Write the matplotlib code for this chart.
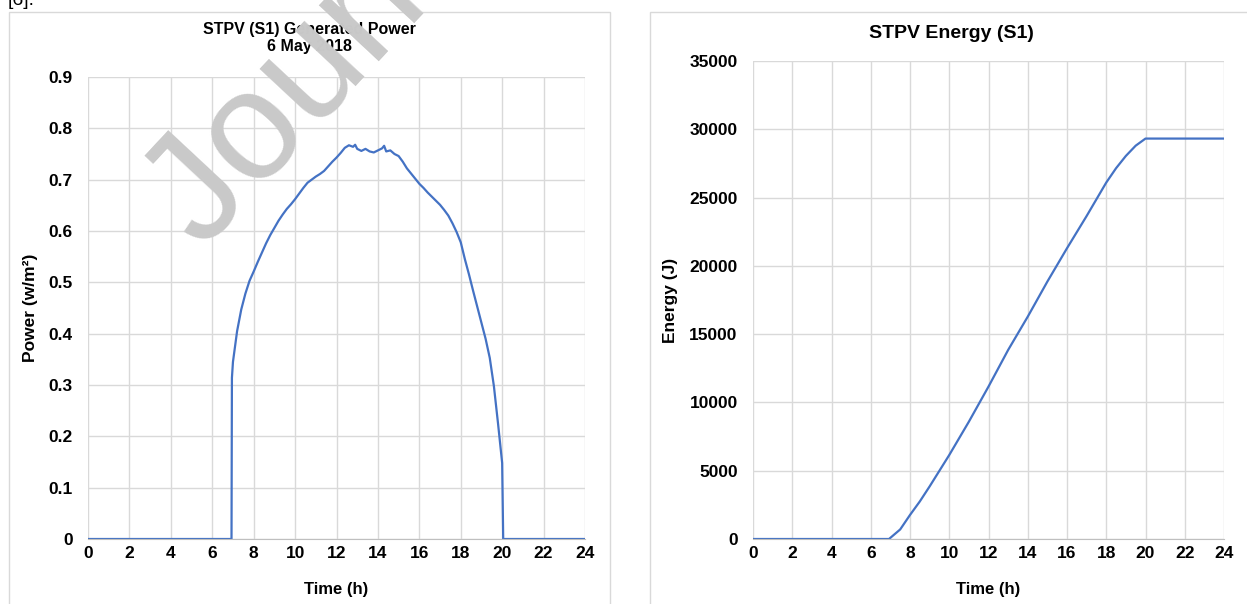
import matplotlib
matplotlib.use('Agg')
import matplotlib.pyplot as plt
import matplotlib.patches as patches

plt.rcParams['font.family'] = ['Liberation Sans', 'DejaVu Sans']

# generated power, 6 May 2018
power_hours = [0, 6.93, 6.95, 7.0, 7.2, 7.4, 7.6, 7.8, 8.0, 8.2, 8.4, 8.6, 8.8,
               9.0, 9.2, 9.4, 9.6, 9.8, 10.0, 10.2, 10.4, 10.6, 10.8, 11.0,
               11.2, 11.4, 11.6, 11.8, 12.0, 12.2, 12.4, 12.6, 12.8, 12.9,
               13.0, 13.2, 13.4, 13.6, 13.8, 14.0, 14.2, 14.3, 14.4, 14.6,
               14.8, 15.0, 15.2, 15.4, 15.6, 15.8, 16.0, 16.2, 16.4, 16.6,
               16.8, 17.0, 17.2, 17.4, 17.6, 17.8, 18.0, 18.2, 18.4, 18.6,
               18.8, 19.0, 19.2, 19.4, 19.6, 19.8, 20.0, 20.05, 24]
power = [0, 0, 0.314, 0.345, 0.405, 0.447, 0.478, 0.503, 0.521, 0.540, 0.558,
         0.576, 0.592, 0.606, 0.620, 0.632, 0.643, 0.652, 0.662, 0.673, 0.684,
         0.694, 0.700, 0.706, 0.711, 0.717, 0.726, 0.735, 0.743, 0.752, 0.762,
         0.767, 0.764, 0.768, 0.760, 0.756, 0.760, 0.755, 0.753, 0.757, 0.761,
         0.766, 0.755, 0.757, 0.750, 0.746, 0.735, 0.722, 0.712, 0.702, 0.692,
         0.684, 0.675, 0.667, 0.659, 0.651, 0.641, 0.630, 0.615, 0.598, 0.578,
         0.545, 0.515, 0.483, 0.452, 0.421, 0.390, 0.353, 0.298, 0.225, 0.148,
         0, 0]

# cumulative energy
energy_hours = [0, 6.93, 7.5, 8, 8.5, 9, 10, 11, 12, 13, 14, 15, 16, 17, 18,
                18.5, 19, 19.5, 20, 24]
energy = [0, 0, 700, 1760, 2750, 3850, 6150, 8590, 11160, 13840, 16280, 18850,
          21290, 23650, 26100, 27150, 28050, 28800, 29320, 29320]

x_ticks = list(range(0, 25, 2))
power_ticks = [0, 0.1, 0.2, 0.3, 0.4, 0.5, 0.6, 0.7, 0.8, 0.9]
power_labels = ['0', '0.1', '0.2', '0.3', '0.4', '0.5', '0.6', '0.7', '0.8', '0.9']
energy_ticks = [0, 5000, 10000, 15000, 20000, 25000, 30000, 35000]

W, H = 1247, 604
fig = plt.figure(figsize=(W / 100, H / 100), dpi=100)

# panel frames
for x0, x1 in [(9, 610), (650, 1260)]:
    fig.patches.append(patches.Rectangle((x0 / W, -0.05), (x1 - x0) / W, 1.05 - 12 / H,
                                         transform=fig.transFigure, fill=False,
                                         edgecolor='#d9d9d9', linewidth=1))

line_color = '#4472C4'
grid_color = '#d9d9d9'


def style_axis(ax):
    ax.set_xlim(0, 24)
    ax.set_xticks(x_ticks)
    ax.grid(True, color=grid_color, linewidth=1)
    ax.set_axisbelow(True)
    for s in ['top', 'right', 'left']:
        ax.spines[s].set_visible(False)
    ax.spines['bottom'].set_color('#bfbfbf')
    ax.tick_params(length=0, labelsize=12.5)
    ax.tick_params(axis='x', pad=5)
    ax.tick_params(axis='y', pad=11)
    for lab in ax.get_xticklabels() + ax.get_yticklabels():
        lab.set_fontweight('bold')


# left: power
ax1 = fig.add_axes([88 / W, 1 - 539 / H, 497 / W, 462 / H])
ax1.plot(power_hours, power, color=line_color, linewidth=1.6)
ax1.set_ylim(0, 0.9)
ax1.set_yticks(power_ticks)
ax1.set_yticklabels(power_labels)
style_axis(ax1)
ax1.set_xlabel('Time (h)', fontsize=12, fontweight='bold')
ax1.xaxis.set_label_coords(0.5, -0.093)
ax1.set_ylabel('Power (w/m²)', fontsize=12.5, fontweight='bold')
ax1.yaxis.set_label_coords(-0.10, 0.5)
fig.text(309.5 / W, 1 - 38 / H, 'STPV (S1) Generated Power\n6 May 2018', ha='center',
         va='center', fontsize=11.5, fontweight='bold', linespacing=1.15)

# right: energy
ax2 = fig.add_axes([753 / W, 1 - 539 / H, 471 / W, 478 / H])
ax2.plot(energy_hours, energy, color=line_color, linewidth=1.6)
ax2.set_ylim(0, 35000)
ax2.set_yticks(energy_ticks)
style_axis(ax2)
ax2.set_xlabel('Time (h)', fontsize=12, fontweight='bold')
ax2.xaxis.set_label_coords(0.5, -0.09)
ax2.set_ylabel('Energy (J)', fontsize=12.5, fontweight='bold')
ax2.yaxis.set_label_coords(-0.159, 0.5)
fig.text(951 / W, 1 - 33 / H, 'STPV Energy (S1)', ha='center', va='center',
         fontsize=14, fontweight='bold')

# cut-off text at the top and the watermark
fig.text(8 / W, 1 - 5 / H, '[6].', fontsize=14, va='baseline')
fig.text(201 / W, 1 - 250 / H, 'Journ', fontsize=112, color='#c9c9c9',
         rotation=47, rotation_mode='anchor', ha='left', va='baseline', zorder=10)

fig.savefig('out.png', dpi=100)
